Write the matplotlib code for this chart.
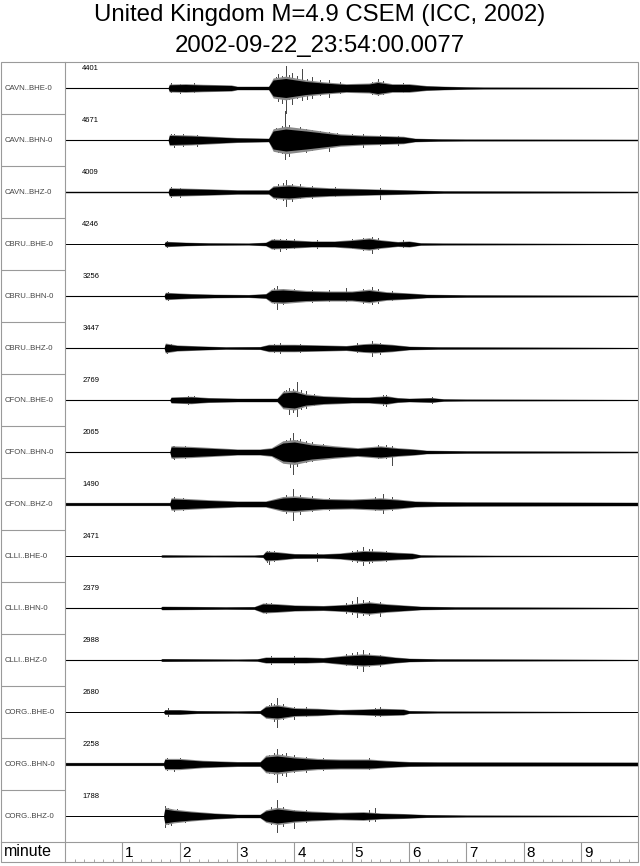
import matplotlib
matplotlib.use('Agg')
import matplotlib.pyplot as plt
from matplotlib.patches import Rectangle
import numpy as np

plt.rcParams['font.family'] = ['Liberation Sans', 'DejaVu Sans']

title_1 = 'United Kingdom M=4.9 CSEM (ICC, 2002)'
title_2 = '2002-09-22_23:54:00.0077'

stations = ['CAVN..BHE-0', 'CAVN..BHN-0', 'CAVN..BHZ-0',
            'CBRU..BHE-0', 'CBRU..BHN-0', 'CBRU..BHZ-0',
            'CFON..BHE-0', 'CFON..BHN-0', 'CFON..BHZ-0',
            'CLLI..BHE-0', 'CLLI..BHN-0', 'CLLI..BHZ-0',
            'CORG..BHE-0', 'CORG..BHN-0', 'CORG..BHZ-0']
peak_counts = [4401, 4671, 4009, 4246, 3256, 3447, 2769, 2065, 1490,
               2471, 2379, 2988, 2680, 2258, 1788]

# envelope: (minute, half amplitude)
cavn_bhe = [(0, 0.5), (1.80, 0.5), (1.82, 3.2), (2.1, 3.5), (2.4, 3.0), (2.9, 2.5), (3.0, 1.5),
            (3.55, 1.5), (3.63, 8), (3.85, 9.5), (4.2, 6.5), (4.5, 5), (4.9, 3.5), (5.3, 4),
            (5.45, 5.5), (5.7, 3.5), (6.0, 3.5), (6.3, 2), (6.6, 1.5), (7.0, 1.0), (7.3, 0.8), (10, 0.5)]
cavn_bhn = [(0, 0.5), (1.80, 0.5), (1.82, 4.5), (2.2, 4), (2.6, 3), (3.0, 2), (3.55, 1.5), (3.63, 9),
            (3.85, 11), (4.2, 9), (4.5, 7), (4.8, 5), (5.2, 4), (5.6, 3.5), (5.9, 3), (6.1, 1.5),
            (6.5, 1), (7.0, 0.8), (10, 0.6)]
cavn_bhz = [(0, 0.6), (1.80, 0.6), (1.82, 3.5), (2.2, 3), (2.6, 2.5), (3.0, 1.8), (3.55, 1.8), (3.63, 5),
            (3.9, 6), (4.2, 4.5), (4.6, 3.5), (5.0, 3), (5.4, 2.5), (5.8, 2), (6.2, 1.5), (6.6, 1), (10, 0.6)]
cbru_bhe = [(0, 0.4), (1.73, 0.4), (1.75, 2.2), (2.1, 1.5), (2.5, 1.0), (3.2, 0.8), (3.5, 1.5), (3.6, 4),
            (3.9, 3.5), (4.3, 2.5), (4.7, 2.5), (5.0, 3.5), (5.3, 5), (5.5, 3.5), (5.8, 2), (6.0, 2.5),
            (6.2, 1.0), (6.6, 0.8), (10, 0.4)]
cbru_bhn = [(0, 0.5), (1.73, 0.5), (1.75, 3), (2.2, 2), (2.6, 1.5), (3.2, 1.2), (3.5, 2), (3.6, 5.5),
            (3.8, 6), (4.2, 4.5), (4.6, 4), (5.0, 4), (5.3, 5.5), (5.6, 3.5), (6.0, 2.5), (6.3, 1.5),
            (7.0, 1), (10, 0.6)]
cbru_bhz = [(0, 0.5), (1.73, 0.5), (1.75, 4), (1.95, 2.5), (2.3, 1.8), (2.8, 1.0), (3.4, 1.2), (3.55, 3),
            (4.0, 3), (4.5, 2.5), (4.9, 2), (5.2, 3.5), (5.4, 4), (5.7, 3), (6.0, 1.5), (6.5, 1), (10, 0.5)]
cfon_bhe = [(0, 0.5), (1.83, 0.5), (1.85, 2.5), (2.2, 3), (2.5, 2), (3.0, 1.5), (3.7, 1.5), (3.8, 7),
            (4.0, 8), (4.2, 5), (4.5, 3.5), (5.0, 2.5), (5.3, 2.5), (5.6, 3.5), (5.8, 2), (6.0, 1.5),
            (6.4, 2), (6.6, 1), (7.0, 0.8), (10, 0.5)]
cfon_bhn = [(0, 0.5), (1.83, 0.5), (1.85, 5), (2.2, 4.5), (2.6, 3.5), (3.0, 2.5), (3.4, 2.5), (3.6, 3.5),
            (3.8, 9), (4.0, 10), (4.3, 7), (4.7, 5), (5.1, 3.5), (5.5, 5), (5.8, 3.5), (6.1, 2.5),
            (6.3, 1.5), (7.0, 1), (10, 0.6)]
cfon_bhz = [(0, 1.3), (1.83, 1.3), (1.85, 5), (2.1, 4.5), (2.5, 3.5), (3.0, 2.5), (3.5, 2.5), (3.8, 6),
            (4.0, 6.5), (4.5, 4.5), (5.0, 4), (5.5, 5), (5.8, 4), (6.1, 2.5), (6.5, 2), (7.0, 1.8), (10, 1.5)]
clli_bhe = [(0, 0.4), (1.67, 0.4), (1.69, 1.0), (2.2, 0.8), (2.6, 0.7), (3.3, 0.8), (3.45, 1.2), (3.5, 4),
            (3.7, 3.5), (4.0, 2), (4.5, 1.8), (4.8, 2.5), (5.0, 3.5), (5.2, 4.5), (5.5, 4), (5.8, 3),
            (6.05, 2.5), (6.2, 1), (6.5, 0.8), (7.5, 0.6), (10, 0.4)]
clli_bhn = [(0, 0.5), (1.67, 0.5), (1.69, 1.5), (2.2, 1.3), (2.8, 1.0), (3.3, 1.2), (3.45, 4), (3.7, 3.5),
            (4.0, 2.5), (4.5, 2), (4.9, 3), (5.1, 4), (5.3, 5), (5.6, 3.5), (5.9, 2.5), (6.2, 1.5),
            (6.8, 1), (10, 0.5)]
clli_bhz = [(0, 0.5), (1.67, 0.5), (1.69, 1.2), (2.3, 1.0), (3.0, 0.8), (3.35, 1.0), (3.5, 2.5), (3.9, 2.5),
            (4.2, 2.5), (4.5, 2), (4.9, 4), (5.2, 5), (5.5, 4), (5.75, 2.5), (6.0, 1.5), (6.5, 1), (10, 0.5)]
corg_bhe = [(0, 0.4), (1.72, 0.4), (1.74, 2), (2.0, 2), (2.3, 1.2), (3.0, 0.9), (3.4, 1.2), (3.5, 5),
            (3.7, 6), (4.0, 3.5), (4.4, 3), (4.8, 2), (5.2, 2.5), (5.5, 3), (5.9, 2.5), (6.0, 1.2),
            (6.5, 0.8), (10, 0.4)]
corg_bhn = [(0, 1.3), (1.72, 1.3), (1.74, 4.5), (2.0, 4.5), (2.4, 3), (3.0, 2), (3.4, 2), (3.5, 7),
            (3.7, 8), (4.0, 6), (4.4, 4.5), (4.8, 4), (5.3, 4), (5.6, 3), (6.0, 2), (6.5, 1.8), (10, 1.6)]
corg_bhz = [(0, 0.4), (1.72, 0.4), (1.74, 7), (1.9, 5.5), (2.2, 4), (2.6, 2.5), (3.0, 1.5), (3.4, 1.5),
            (3.5, 5), (3.7, 7), (4.0, 5), (4.3, 4), (4.8, 3), (5.2, 3.5), (5.5, 2.5), (5.9, 2), (6.3, 1.2),
            (7.0, 0.8), (10, 0.5)]

# single swings that stick out of the envelope: (minute, up, down)
cavn_bhe_spk = [(1.85, 5, 4), (2.0, 4, 5), (2.25, 5, 4), (3.68, 11, 9), (3.72, 14, 13), (3.78, 12, 15),
                (3.85, 22, 25), (3.9, 13, 11), (3.95, 15, 16), (4.05, 12, 10), (4.14, 19, 12),
                (4.22, 9, 11), (4.3, 11, 10), (4.45, 8, 7), (4.6, 8, 9), (4.8, 6, 5), (5.35, 6, 6),
                (5.45, 9, 7), (5.55, 7, 6), (5.9, 5, 4)]
cavn_bhn_spk = [(1.85, 6, 5), (1.9, 6, 7), (2.05, 6, 6), (2.3, 5, 6), (3.68, 12, 10), (3.72, 10, 12),
                (3.78, 14, 13), (3.83, 29, 19), (3.9, 15, 16), (4.0, 12, 12), (4.1, 13, 11),
                (4.2, 11, 12), (4.3, 10, 10), (4.45, 9, 8), (4.6, 8, 11), (4.75, 7, 6), (5.0, 6, 5),
                (5.2, 6, 7), (5.5, 5, 5), (5.8, 4, 5)]
cavn_bhz_spk = [(1.85, 5, 5), (2.0, 4, 5), (3.68, 6, 7), (3.72, 8, 6), (3.8, 9, 8), (3.85, 12.5, 14),
                (3.95, 8, 9), (4.1, 8, 6), (4.3, 6, 6), (4.7, 5, 4), (5.5, 4, 7)]
cbru_bhe_spk = [(1.78, 3, 3), (3.65, 5, 5), (3.75, 5, 7), (3.85, 5, 5), (4.0, 5, 4), (4.4, 4, 4),
                (5.0, 5, 4), (5.2, 6, 6), (5.35, 7.5, 9), (5.45, 6, 5), (5.9, 4, 3)]
cbru_bhn_spk = [(1.8, 4, 4), (3.65, 8, 7), (3.7, 10, 12.5), (3.8, 7, 8), (4.0, 7, 6), (4.3, 6, 6),
                (4.6, 6, 5), (4.9, 8, 5), (5.2, 7, 7), (5.35, 9, 8), (5.45, 7, 7), (5.7, 5, 4)]
cbru_bhz_spk = [(1.78, 4.5, 4.5), (1.85, 4, 3), (3.65, 4, 4), (3.75, 5, 5), (4.1, 4, 4), (5.1, 5, 4),
                (5.35, 7, 8), (5.5, 5, 6)]
cfon_bhe_spk = [(2.15, 4, 4), (2.25, 4, 3), (3.82, 9, 8), (3.85, 10, 8), (3.9, 12, 14), (3.98, 11, 12),
                (4.05, 18.5, 16), (4.12, 10, 9), (4.2, 9, 8), (4.35, 6, 5), (5.55, 5, 5), (5.6, 5, 6),
                (6.4, 3, 3)]
cfon_bhn_spk = [(1.88, 6, 6), (1.9, 6, 7), (2.1, 6, 6), (3.85, 12, 11), (3.92, 14, 15), (3.98, 19, 22),
                (4.05, 12, 14), (4.1, 13, 10), (4.2, 11, 10), (4.3, 10, 9), (4.5, 8, 7), (5.45, 7, 6),
                (5.6, 7, 6), (5.7, 6, 12.5)]
cfon_bhz_spk = [(1.9, 7, 7), (2.05, 6, 6), (3.85, 9, 9), (3.98, 15.5, 16), (4.1, 9, 10), (4.3, 8, 7),
                (4.6, 6, 6), (5.4, 7, 6), (5.55, 10, 9), (5.7, 7, 6)]
clli_bhe_spk = [(3.52, 5, 6), (3.55, 5, 8), (3.65, 5, 5), (4.4, 3, 5), (5.0, 5, 5), (5.1, 6, 6),
                (5.2, 9, 9), (5.3, 7, 7), (5.35, 7, 6), (5.6, 5, 5)]
clli_bhn_spk = [(3.5, 5, 5), (3.6, 5, 4), (4.9, 5, 5), (5.0, 7, 6), (5.1, 11.5, 9), (5.2, 8, 7),
                (5.3, 7, 7), (5.5, 6, 8)]
clli_bhz_spk = [(3.6, 4, 4), (4.0, 4, 4), (4.9, 6, 5), (5.0, 7, 5), (5.1, 8, 8), (5.2, 10, 10.5),
                (5.3, 7, 6), (5.5, 5, 6)]
corg_bhe_spk = [(1.8, 4, 4), (3.55, 7, 6), (3.6, 9, 6), (3.65, 8, 9), (3.7, 14, 15), (3.8, 8, 7),
                (4.0, 5, 7), (4.2, 5, 4), (5.4, 4, 4), (5.5, 5, 4)]
corg_bhn_spk = [(1.78, 6, 6), (1.9, 5, 7), (2.0, 6, 5), (3.55, 9, 9), (3.65, 11, 10), (3.7, 15, 18),
                (3.78, 10, 11), (3.85, 11, 12), (4.0, 9, 8), (4.2, 7, 8), (4.5, 6, 6), (5.3, 6, 5)]
corg_bhz_spk = [(1.75, 10, 11), (1.8, 8, 8), (1.85, 7, 9), (1.95, 7, 6), (2.1, 5, 6), (3.6, 9, 8),
                (3.7, 16.5, 16), (3.8, 9, 10), (4.0, 6, 12), (4.2, 6, 6), (5.3, 6, 5), (5.4, 8, 5)]

envelopes = [cavn_bhe, cavn_bhn, cavn_bhz, cbru_bhe, cbru_bhn, cbru_bhz, cfon_bhe, cfon_bhn, cfon_bhz,
             clli_bhe, clli_bhn, clli_bhz, corg_bhe, corg_bhn, corg_bhz]
spikes = [cavn_bhe_spk, cavn_bhn_spk, cavn_bhz_spk, cbru_bhe_spk, cbru_bhn_spk, cbru_bhz_spk,
          cfon_bhe_spk, cfon_bhn_spk, cfon_bhz_spk, clli_bhe_spk, clli_bhn_spk, clli_bhz_spk,
          corg_bhe_spk, corg_bhn_spk, corg_bhz_spk]

minutes = [1, 2, 3, 4, 5, 6, 7, 8, 9]

W, H = 640, 866
ROW = 52
n = len(stations)
fig = plt.figure(figsize=(W / 100, H / 100), dpi=100)
frame_col = '#9a9a9a'


def box(x0, y0, x1, y1):
    return [x0 / W, 1 - y1 / H, (x1 - x0) / W, (y1 - y0) / H]


fig.text(0.5, 1 - 15 / H, title_1, ha='center', va='center', fontsize=17.3)
fig.text(0.5, 1 - 46 / H, title_2, ha='center', va='center', fontsize=17.3)

# traces
ax = fig.add_axes(box(65, 62, 638.5, 842))
ax.set_xlim(0, 10)
ax.set_ylim(n * ROW, 0)
ax.axis('off')
for i, (env, spk) in enumerate(zip(envelopes, spikes)):
    base = ROW / 2 + i * ROW
    t = np.array([p[0] for p in env])
    a = np.array([p[1] for p in env])
    for s_t, up, dn in spk:
        ax.plot([s_t, s_t], [base - up, base + dn], color='#444444', lw=0.7, zorder=1)
    ax.fill_between(t, base - a * 1.25, base + a * 1.25, color='#8a8a8a', lw=0, zorder=2)
    ax.fill_between(t, base - a, base + a, color='black', lw=0, zorder=3)
    ax.plot([0, 10], [base, base], color='black', lw=0.6, zorder=4)
    ax.text(0.3, i * ROW + 7, str(peak_counts[i]), fontsize=5.5, va='center', ha='left')

# station label column
axl = fig.add_axes(box(1, 62, 65, 842))
axl.set_xlim(0, 1)
axl.set_ylim(n * ROW, 0)
axl.axis('off')
for i, name in enumerate(stations):
    axl.text(0.05, ROW / 2 + i * ROW, name, fontsize=5.6, color='#444444', va='center', ha='left')
    if i > 0:
        axl.plot([0, 1], [i * ROW, i * ROW], color=frame_col, lw=0.8)

# time axis row
axt = fig.add_axes(box(65, 842, 638.5, 862))
axt.set_xlim(0, 10)
axt.set_ylim(0, 1)
for sp in axt.spines.values():
    sp.set_visible(False)
axt.set_yticks([])
axt.set_xticks(np.arange(0, 10, 1 / 6), minor=True)
axt.set_xticks([])
axt.tick_params(axis='x', which='minor', direction='in', length=2.5, color=frame_col, width=0.6)
for m in minutes:
    axt.axvline(m, color=frame_col, lw=0.8)
    axt.text(m + 0.05, 0.45, str(m), fontsize=11, va='center', ha='left')
fig.text(4 / W, 1 - 852 / H, 'minute', fontsize=11.5, va='center', ha='left')

# frame lines
fig.add_artist(Rectangle((1 / W, 1 - 862 / H), 637 / W, 800 / H, transform=fig.transFigure,
                         fill=False, ec=frame_col, lw=0.8))
fig.add_artist(plt.Line2D([65 / W, 65 / W], [1 - 862 / H, 1 - 62 / H], transform=fig.transFigure,
                          color=frame_col, lw=0.8))
fig.add_artist(plt.Line2D([1 / W, 638 / W], [1 - 842 / H, 1 - 842 / H], transform=fig.transFigure,
                          color=frame_col, lw=0.8))

fig.savefig('out.png', dpi=100)
